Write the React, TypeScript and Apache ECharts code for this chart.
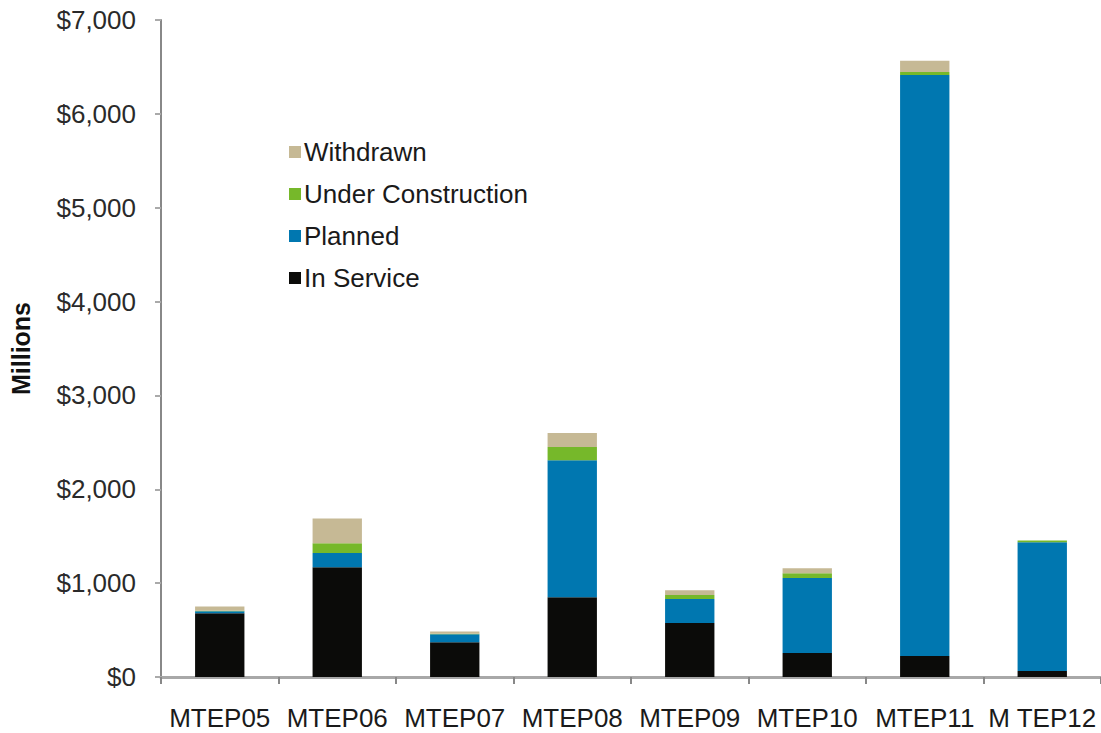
import React, { useEffect, useRef } from "react";
import * as echarts from "echarts";

const categories = ["MTEP05", "MTEP06", "MTEP07", "MTEP08", "MTEP09", "MTEP10", "MTEP11", "M TEP12"];
const inService = [680, 1170, 370, 850, 575, 255, 225, 65];
const planned = [20, 150, 85, 1460, 255, 800, 6190, 1370];
const underConstruction = [5, 105, 5, 140, 45, 50, 30, 20];
const withdrawn = [45, 265, 25, 150, 50, 55, 120, 0];
const yTicks = [0, 1000, 2000, 3000, 4000, 5000, 6000, 7000];

const FONT = "'Liberation Sans', Arial, sans-serif";

export default function App() {
  const ref = useRef<HTMLDivElement>(null);
  useEffect(() => {
    if (!ref.current) return;
    const chart = echarts.init(ref.current, null, { renderer: "svg" });
    const mk = (name: string, data: number[], color: string) => ({
      name,
      type: "bar",
      stack: "total",
      data,
      barWidth: "42%",
      itemStyle: { color },
    });
    chart.setOption({
      animation: false,
      backgroundColor: "#ffffff",
      textStyle: { fontFamily: FONT },
      grid: { left: 161, right: -6, top: 20, bottom: 56 },
      legend: {
        orient: "vertical",
        left: 284,
        top: 134,
        itemWidth: 12,
        itemHeight: 12,
        itemGap: 16,
        icon: "rect",
        data: ["Withdrawn", "Under Construction", "Planned", "In Service"],
        textStyle: { fontSize: 26, color: "#1a1a1a", fontFamily: FONT, padding: [0, 0, 0, -2] },
      },
      xAxis: {
        type: "category",
        data: categories,
        boundaryGap: true,
        axisLine: { lineStyle: { color: "#a8a8a8", width: 3 } },
        axisTick: { show: true, alignWithLabel: false, length: 7, lineStyle: { color: "#888", width: 2 } },
        axisLabel: { fontSize: 26, color: "#1a1a1a", margin: 28, fontFamily: FONT, interval: 0 },
      },
      yAxis: {
        type: "value",
        min: 0,
        max: 7000,
        interval: 1000,
        name: "Millions",
        nameLocation: "middle",
        nameRotate: 90,
        nameGap: 128,
        nameTextStyle: { fontSize: 25, fontWeight: "bold", color: "#111", fontFamily: FONT },
        axisLine: { show: true, lineStyle: { color: "#888", width: 2 } },
        axisTick: { show: true, length: 6, lineStyle: { color: "#aaa", width: 2 } },
        splitLine: { show: false },
        axisLabel: {
          fontSize: 26,
          color: "#2a2a2a",
          margin: 25,
          fontFamily: FONT,
          formatter: (v: number) => (yTicks.includes(v) ? "$" + v.toLocaleString("en-US") : ""),
        },
      },
      series: [
        mk("In Service", inService, "#0b0b09"),
        mk("Planned", planned, "#0077b0"),
        mk("Under Construction", underConstruction, "#76b82a"),
        mk("Withdrawn", withdrawn, "#c6b995"),
      ],
    });
    return () => chart.dispose();
  }, []);
  return (
    <div
      ref={ref}
      style={{ position: "fixed", left: 0, top: 0, width: 1101, height: 733, background: "#fff" }}
    />
  );
}
